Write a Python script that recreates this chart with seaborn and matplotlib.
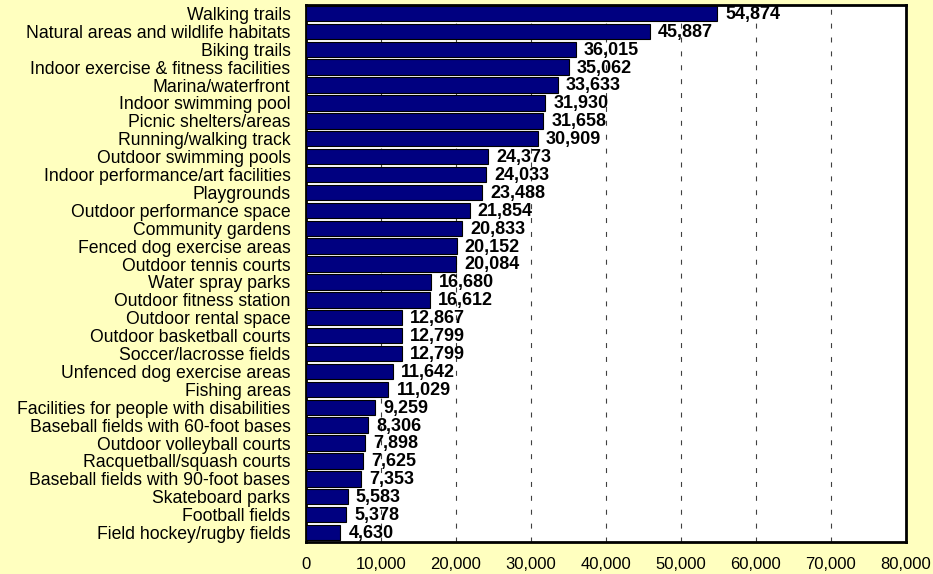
import matplotlib
matplotlib.use("Agg")
import matplotlib.pyplot as plt
import seaborn as sns
import pandas as pd
from matplotlib.ticker import FuncFormatter, MultipleLocator

categories = [
    "Walking trails", "Natural areas and wildlife habitats", "Biking trails",
    "Indoor exercise & fitness facilities", "Marina/waterfront", "Indoor swimming pool",
    "Picnic shelters/areas", "Running/walking track", "Outdoor swimming pools",
    "Indoor performance/art facilities", "Playgrounds", "Outdoor performance space",
    "Community gardens", "Fenced dog exercise areas", "Outdoor tennis courts",
    "Water spray parks", "Outdoor fitness station", "Outdoor rental space",
    "Outdoor basketball courts", "Soccer/lacrosse fields", "Unfenced dog exercise areas",
    "Fishing areas", "Facilities for people with disabilities",
    "Baseball fields with 60-foot bases", "Outdoor volleyball courts",
    "Racquetball/squash courts", "Baseball fields with 90-foot bases",
    "Skateboard parks", "Football fields", "Field hockey/rugby fields",
]
values = [54874, 45887, 36015, 35062, 33633, 31930, 31658, 30909, 24373, 24033,
          23488, 21854, 20833, 20152, 20084, 16680, 16612, 12867, 12799, 12799,
          11642, 11029, 9259, 8306, 7898, 7625, 7353, 5583, 5378, 4630]

df = pd.DataFrame({"category": categories, "value": values})

sns.set_theme(style="white")
plt.rcParams["font.family"] = ["Liberation Sans", "DejaVu Sans"]

bg = "#FFFFBF"
fig = plt.figure(figsize=(9.33, 5.74), dpi=100, facecolor=bg)
ax = fig.add_axes([305.7 / 933, 1 - 541.5 / 574, 600 / 933, 537 / 574])
ax.set_facecolor("white")

sns.barplot(data=df, x="value", y="category", orient="h", color="#000080",
            saturation=1, edgecolor="black", linewidth=0.8, width=0.86, ax=ax, zorder=3)

ax.set_xlim(0, 80000)
ax.set_ylim(len(categories) - 0.5, -0.5)
ax.xaxis.set_major_locator(MultipleLocator(10000))
ax.xaxis.set_major_formatter(FuncFormatter(lambda v, p: f"{int(v):,}"))
ax.grid(axis="x", color="#404040", linestyle=(0, (4.5, 8)), linewidth=0.8, zorder=1)
ax.set_axisbelow(True)
ax.set_xlabel("")
ax.set_ylabel("")
ax.tick_params(axis="x", labelsize=12, pad=11, length=0, colors="black")
ax.tick_params(axis="y", labelsize=12.7, pad=11, length=0, colors="black")
for s in ax.spines.values():
    s.set_visible(True)
    s.set_color("black")
    s.set_linewidth(2)

for i, v in enumerate(values):
    ax.text(v + 1070, i + 0.05, f"{v:,}", va="center", ha="left", fontsize=13,
            fontweight="bold", color="black", zorder=4)

fig.savefig("out.png", dpi=100, facecolor=bg)
